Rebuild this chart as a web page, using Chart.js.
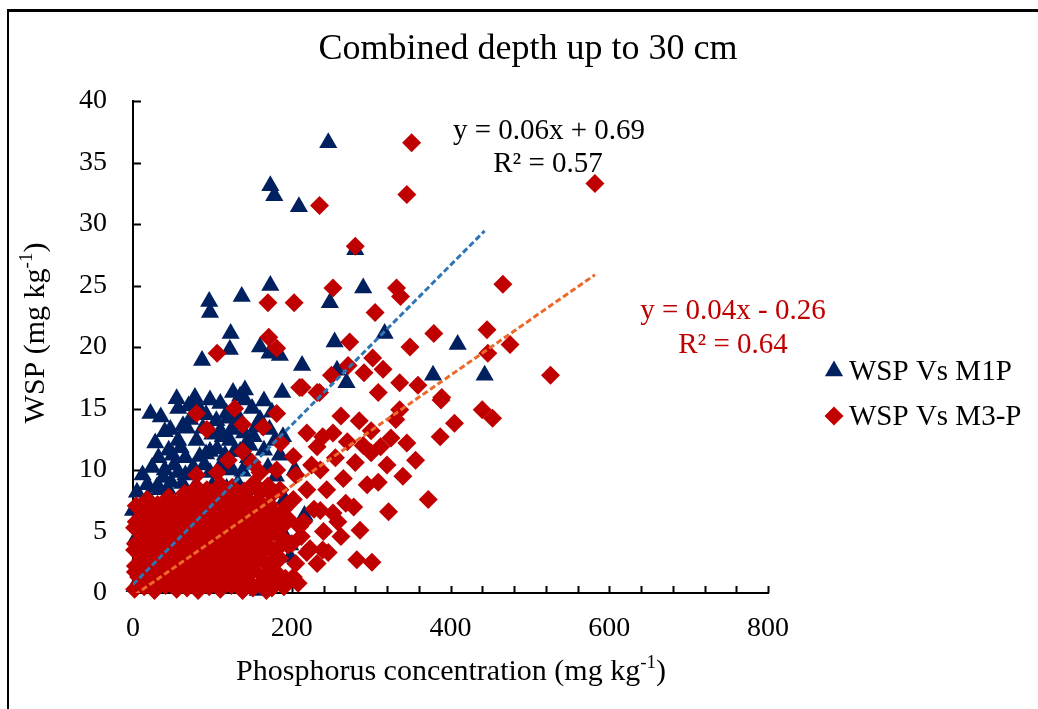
<!DOCTYPE html>
<html>
<head>
<meta charset="utf-8">
<title>Combined depth up to 30 cm</title>
<script src="https://cdn.jsdelivr.net/npm/chart.js@4.4.0/dist/chart.umd.min.js"></script>
<style>
  html, body { margin: 0; padding: 0; background: #fff; overflow: hidden; }
  #wrap { position: relative; width: 1038px; height: 709px; overflow: hidden; }
  #frame {
    position: absolute; left: 7px; top: 9px; width: 1100px; height: 800px;
    border-left: 2px solid #000; border-top: 3px solid #000;
  }
  #chart { position: absolute; left: 0; top: 0; }
</style>
</head>
<body>
<div id="wrap">
  <div id="frame"></div>
  <canvas id="chart" width="1038" height="709"></canvas>
</div>
<script>
const FONT = "'Liberation Serif', 'Times New Roman', serif";

const chartTitle = 'Combined depth up to 30 cm';
const seriesNames = ['WSP Vs M1P', 'WSP Vs M3-P'];
const xTitle = [['Phosphorus concentration (mg kg', false], ['-1', true], [')', false]];
const yTitle = [['WSP (mg kg', false], ['-1', true], [')', false]];

const xTickValues = [0, 200, 400, 600, 800];
const yTickValues = [0, 5, 10, 15, 20, 25, 30, 35, 40];

// linear trendlines: slope, intercept, R²
const trendSlope = [0.0649, 0.0449];
const trendIntercept = [0.69, -0.26];
const trendR2 = [0.57, 0.64];

// [phosphorus, WSP] for M1P
const m1pPoints = [
  [246, 36.6], [173, 33.1], [178, 32.3], [209, 31.4], [280, 27.9], [173, 25.0], [137, 24.1],
  [96, 23.7], [97, 22.8], [248, 23.6], [290, 24.8], [317, 21.1], [123, 21.1], [122, 19.8],
  [87, 18.9], [160, 20.0], [172, 19.5], [185, 19.3], [254, 20.4], [213, 18.5], [409, 20.2],
  [126, 16.3], [141, 16.5], [188, 16.3], [378, 17.7], [269, 17.1], [257, 18.1], [78, 15.9],
  [443, 17.7],
  [22, 14.6], [57, 15.0], [78, 15.5], [47, 13.3], [68, 13.4], [57, 12.4], [113, 12.7],
  [125, 13.3], [144, 12.3], [50, 11.2], [84, 11.1], [97, 11.5], [38, 9.4], [57, 9.8],
  [76, 10.2], [97, 9.8], [128, 11.5], [189, 12.7], [156, 8.4], [19, 7.8], [9, 7.0], [0, 6.7],
  [30, 8.6], [194, 4.3], [198, 2.9], [63, 13.6], [72, 14.1], [84, 14.9], [97, 15.7], [40, 10.0],
  [34, 8.4], [116, 11.2], [122, 12.4], [128, 13.7], [141, 15.7], [160, 14.1], [175, 14.7],
  [147, 12.0], [179, 12.4], [185, 11.2], [204, 10.0], [191, 7.6], [216, 6.3], [198, 3.9],
  [5, 8.2], [18, 8.8], [44, 8.4], [62, 8.9], [75, 8.3], [100, 8.7], [118, 8.5], [132, 8.9],
  [24, 10.2], [52, 10.4], [66, 9.6], [110, 10.3], [138, 9.9], [150, 10.5], [170, 10.2],
  [32, 11.0], [45, 11.6], [60, 11.8], [92, 11.3], [106, 11.7], [135, 11.5], [165, 11.6],
  [40, 13.1], [88, 13.4], [100, 12.9], [110, 13.2], [140, 13.0], [152, 12.7], [172, 13.3],
  [35, 14.3], [92, 14.5], [105, 14.0], [118, 14.6], [132, 14.4], [150, 15.0], [55, 15.8],
  [70, 15.2], [110, 15.4], [165, 15.6],
  [12, 9.6], [28, 12.2], [66, 11.0], [80, 12.4], [120, 14.2], [135, 16.0], [155, 13.5],
  [48, 9.0], [90, 10.4], [125, 10.0], [145, 11.0], [180, 9.5],
  [2, 0.5], [12, 2.5], [25, 1.5], [40, 3.5], [55, 2.0], [70, 4.5], [85, 3.0], [100, 5.5],
  [115, 2.5], [130, 6.0], [145, 4.0], [157, 0.2], [150, 2.0], [165, 3.5], [175, 6.5], [4, 4.5],
  [15, 5.5], [28, 6.5], [50, 6.0], [90, 7.0], [120, 7.5], [160, 7.2], [180, 5.2], [170, 1.5]
];

// [phosphorus, WSP] for M3-P
const m3pPoints = [
  [2, 0.3], [14, 0.5], [27, 0.2], [41, 0.6], [55, 0.3], [68, 0.4], [82, 0.2], [96, 0.5],
  [110, 0.3], [124, 0.6], [138, 0.2], [151, 0.4],
  [9, 0.8], [20, 0.7], [34, 0.9], [48, 0.7], [61, 0.8], [75, 0.9], [89, 0.7], [103, 0.8],
  [117, 0.9], [131, 0.7], [144, 0.8], [160, 0.7],
  [7, 1.3], [21, 1.1], [34, 1.4], [48, 1.2], [62, 1.5], [75, 1.3], [89, 1.1], [103, 1.4],
  [117, 1.2], [131, 1.5], [145, 1.0], [165, 1.3],
  [3, 1.7], [14, 1.8], [27, 1.6], [41, 1.9], [55, 1.7], [68, 1.8], [82, 1.6], [96, 1.9],
  [110, 1.7], [124, 1.8], [138, 1.6], [152, 1.9], [180, 1.7],
  [3, 2.2], [15, 2.0], [28, 2.4], [42, 2.1], [56, 2.3], [69, 2.0], [83, 2.4], [97, 2.2],
  [111, 2.1], [125, 2.3], [139, 2.0], [153, 2.4], [172, 2.2],
  [10, 2.7], [23, 2.6], [36, 2.8], [50, 2.5], [63, 2.7], [77, 2.6], [91, 2.8], [105, 2.5],
  [119, 2.7], [133, 2.6], [147, 2.8], [165, 2.6],
  [8, 3.1], [22, 3.0], [35, 3.3], [49, 2.9], [63, 3.2], [76, 3.0], [90, 3.3], [104, 3.1],
  [118, 2.9], [132, 3.2], [146, 3.0], [160, 3.3],
  [2, 3.5], [15, 3.6], [29, 3.4], [42, 3.6], [56, 3.5], [70, 3.7], [83, 3.4], [97, 3.6],
  [111, 3.5], [125, 3.7], [139, 3.4], [153, 3.6], [175, 3.5],
  [3, 4.0], [16, 3.9], [29, 4.2], [43, 3.8], [57, 4.1], [70, 3.9], [84, 4.2], [98, 4.0],
  [112, 3.8], [126, 4.1], [140, 3.9], [154, 4.2], [168, 4.0],
  [10, 4.4], [23, 4.5], [37, 4.3], [50, 4.5], [63, 4.4], [77, 4.6], [90, 4.3], [104, 4.5],
  [118, 4.4], [132, 4.6], [146, 4.3], [160, 4.5], [188, 4.5],
  [9, 4.9], [23, 4.8], [36, 5.1], [50, 4.7], [64, 5.0], [77, 4.8], [91, 5.1], [105, 4.9],
  [119, 4.7], [133, 5.0], [147, 4.8], [162, 5.1], [178, 4.9],
  [2, 5.3], [16, 5.4], [29, 5.2], [43, 5.4], [57, 5.3], [70, 5.5], [84, 5.2], [98, 5.4],
  [112, 5.3], [126, 5.5], [140, 5.2], [155, 5.4], [170, 5.3],
  [4, 5.8], [17, 5.6], [30, 6.0], [44, 5.7], [58, 5.9], [71, 5.6], [85, 6.0], [99, 5.8],
  [113, 5.7], [127, 5.9], [141, 5.6], [156, 6.0], [171, 5.8],
  [10, 6.2], [23, 6.3], [37, 6.1], [51, 6.3], [64, 6.2], [78, 6.4], [91, 6.1], [105, 6.3],
  [119, 6.2], [133, 6.4], [148, 6.1], [180, 6.3],
  [11, 6.8], [24, 6.6], [38, 6.9], [51, 6.5], [65, 6.8], [78, 6.6], [92, 6.9], [106, 6.7],
  [120, 6.5], [134, 6.8], [149, 6.6], [165, 6.9],
  [4, 7.1], [31, 7.2], [45, 7.0], [58, 7.2], [72, 7.1], [86, 7.3], [99, 7.0], [113, 7.2],
  [127, 7.1], [142, 7.3], [172, 7.2],
  [18, 7.6], [45, 7.8], [59, 7.4], [72, 7.7], [86, 7.5], [100, 7.8], [114, 7.6], [128, 7.4],
  [143, 7.7], [158, 7.5],
  [65, 8.1], [87, 8.0], [102, 8.2], [117, 8.1], [133, 8.0], [160, 8.2],
  [80, 8.6], [93, 8.4], [110, 8.8], [125, 8.6], [140, 8.3], [152, 8.9], [170, 8.7],
  [175, 0.4], [185, 2.8], [192, 1.2], [188, 5.4], [200, 4.0], [196, 6.0], [210, 5.4],
  [182, 3.6], [168, 0.2], [190, 0.5],
  [164, 13.5], [181, 14.6], [202, 11.1], [232, 11.9], [239, 12.7], [219, 13.0], [252, 13.0],
  [210, 16.7], [235, 16.3], [138, 13.7], [128, 15.0], [93, 13.3], [80, 14.6], [138, 11.5],
  [80, 9.6], [106, 9.8], [181, 10.0], [185, 8.4], [219, 8.4], [244, 8.4], [236, 10.0],
  [236, 6.7], [252, 6.5], [185, 5.9], [219, 3.3], [239, 3.5], [202, 1.3], [202, 7.6],
  [205, 9.6], [225, 10.4], [255, 11.0], [265, 9.3], [270, 12.3], [280, 10.6], [290, 12.0],
  [300, 11.4], [262, 14.4], [285, 14.0], [300, 13.2], [312, 11.9], [320, 10.4], [295, 8.8],
  [278, 7.0], [258, 5.8], [240, 5.0], [228, 6.8], [212, 4.6], [195, 3.9], [205, 2.4],
  [180, 1.0], [208, 0.8], [232, 2.4], [262, 4.6], [190, 6.8], [175, 8.0], [160, 9.8],
  [150, 10.6], [120, 10.8], [186, 12.2], [195, 7.2], [215, 5.8], [170, 4.8],
  [351, 36.6], [582, 33.3], [345, 32.4], [235, 31.5], [280, 28.2], [252, 24.8], [332, 24.8],
  [337, 24.1], [170, 23.6], [203, 23.6], [305, 22.8], [171, 20.8], [181, 19.9], [273, 20.4],
  [379, 21.1], [349, 20.0], [106, 19.5], [302, 19.1], [315, 18.2], [291, 17.9], [336, 17.1],
  [213, 16.7], [232, 16.3], [271, 18.5], [250, 17.7], [309, 16.3], [389, 15.9], [466, 25.1],
  [446, 21.4], [475, 20.2], [447, 19.5], [526, 17.7], [440, 14.9], [453, 14.2], [387, 12.7],
  [388, 15.7], [405, 13.8], [372, 7.6], [322, 6.6], [301, 2.5], [309, 9.0], [282, 2.7],
  [268, 7.3], [246, 3.3], [223, 3.6], [286, 5.1], [359, 16.9], [336, 14.9], [331, 14.1],
  [345, 12.2], [356, 10.8], [340, 9.5], [325, 12.6]
];

const toXY = pts => pts.map(p => ({ x: p[0], y: p[1] }));

function trendPoints(pts, i) {
  const xs = pts.map(p => p[0]);
  return [Math.min(...xs), Math.max(...xs)].map(x => ({ x: x, y: trendSlope[i] * x + trendIntercept[i] }));
}

function equationText(i) {
  const b = trendIntercept[i];
  return 'y = ' + trendSlope[i].toFixed(2) + 'x ' + (b < 0 ? '- ' : '+ ') + Math.abs(b).toFixed(2);
}

// text with a raised "-1" exponent, centred on cx, baseline at y
function drawSupText(ctx, pieces, cx, y, size) {
  let total = 0;
  pieces.forEach(([t, sup]) => {
    ctx.font = (sup ? Math.round(size * 0.62) : size) + 'px ' + FONT;
    total += ctx.measureText(t).width;
  });
  let x = cx - total / 2;
  ctx.textAlign = 'left';
  ctx.textBaseline = 'alphabetic';
  pieces.forEach(([t, sup]) => {
    ctx.font = (sup ? Math.round(size * 0.62) : size) + 'px ' + FONT;
    ctx.fillText(t, x, sup ? y - size * 0.4 : y);
    x += ctx.measureText(t).width;
  });
}

const decor = {
  id: 'decor',
  beforeDatasetsDraw(chart) {
    // inward tick marks
    const ctx = chart.ctx;
    const { left, bottom } = chart.chartArea;
    const xs = chart.scales.x, ys = chart.scales.y;
    ctx.save();
    ctx.strokeStyle = '#000';
    ctx.lineWidth = 2;
    ctx.beginPath();
    for (let v = 5; v <= 40; v += 5) {
      const py = Math.round(ys.getPixelForValue(v)) + 0.5;
      ctx.moveTo(left, py);
      ctx.lineTo(left + 8, py);
    }
    for (let v = 40; v <= 800; v += 40) {
      const px = Math.round(xs.getPixelForValue(v)) + 0.5;
      ctx.moveTo(px, bottom);
      ctx.lineTo(px, bottom - 7);
    }
    ctx.stroke();
    ctx.restore();
  },
  afterDraw(chart) {
    const ctx = chart.ctx;
    ctx.save();
    ctx.fillStyle = '#000';

    ctx.font = '36px ' + FONT;
    ctx.textAlign = 'center';
    ctx.textBaseline = 'middle';
    ctx.fillText(chartTitle, 528, 50);

    drawSupText(ctx, xTitle, 451, 680, 30);

    ctx.save();
    ctx.translate(34, 333);
    ctx.rotate(-Math.PI / 2);
    drawSupText(ctx, yTitle, 0, 10, 30);
    ctx.restore();

    // regression equations
    ctx.textAlign = 'center';
    ctx.textBaseline = 'middle';
    ctx.font = '29px ' + FONT;
    ctx.fillStyle = '#000';
    ctx.fillText(equationText(0), 549, 131);
    ctx.fillText('R² = ' + trendR2[0].toFixed(2), 548, 164);
    ctx.fillStyle = '#C00000';
    ctx.fillText(equationText(1), 733, 311);
    ctx.fillText('R² = ' + trendR2[1].toFixed(2), 733, 345);

    // legend
    [0, 1].forEach(i => {
      const ds = chart.data.datasets[i];
      const y = 371 + i * 45;
      ctx.fillStyle = ds.backgroundColor;
      Chart.helpers.drawPoint(ctx, { pointStyle: ds.pointStyle, radius: ds.pointRadius, rotation: 0, borderWidth: 0 }, 834, y);
      ctx.fillStyle = '#000';
      ctx.font = '29px ' + FONT;
      ctx.textAlign = 'left';
      ctx.textBaseline = 'middle';
      ctx.fillText(ds.label, 849, y + 1);
    });
    ctx.restore();
  }
};

const tickFont = { family: FONT, size: 28 };

new Chart(document.getElementById('chart'), {
  type: 'scatter',
  data: {
    datasets: [
      {
        label: seriesNames[0],
        data: toXY(m1pPoints),
        pointStyle: 'triangle',
        pointRadius: 10.5,
        backgroundColor: '#002060',
        borderColor: '#002060',
        borderWidth: 0,
        clip: false,
        order: 3
      },
      {
        label: seriesNames[1],
        data: toXY(m3pPoints),
        pointStyle: 'rectRot',
        pointRadius: 9.5,
        backgroundColor: '#C00000',
        borderColor: '#C00000',
        borderWidth: 0,
        clip: false,
        order: 2
      },
      {
        label: 'trend M1P',
        data: trendPoints(m1pPoints, 0),
        showLine: true,
        pointRadius: 0,
        borderColor: '#2E75B6',
        borderWidth: 3,
        borderDash: [6, 3],
        order: 1
      },
      {
        label: 'trend M3-P',
        data: trendPoints(m3pPoints, 1),
        showLine: true,
        pointRadius: 0,
        borderColor: '#EB6A2A',
        borderWidth: 3,
        borderDash: [6, 3],
        order: 0
      }
    ]
  },
  options: {
    responsive: false,
    animation: false,
    devicePixelRatio: 1,
    events: [],
    layout: { padding: { top: 101, right: 270, bottom: 0, left: 0 } },
    plugins: {
      legend: { display: false },
      title: { display: false },
      tooltip: { enabled: false }
    },
    scales: {
      x: {
        type: 'linear',
        min: 0,
        max: 800,
        afterBuildTicks: s => { s.ticks = xTickValues.map(v => ({ value: v })); },
        afterFit: s => { s.height = 116; },
        grid: { display: false, drawTicks: false },
        border: { display: true, color: '#000', width: 2 },
        ticks: { color: '#000', font: tickFont, padding: 19, maxRotation: 0 }
      },
      y: {
        type: 'linear',
        min: 0,
        max: 40,
        afterBuildTicks: s => { s.ticks = yTickValues.map(v => ({ value: v })); },
        afterFit: s => { s.width = 133; },
        grid: { display: false, drawTicks: false },
        border: { display: true, color: '#000', width: 2 },
        ticks: { color: '#000', font: tickFont, padding: 26 }
      }
    }
  },
  plugins: [decor]
});
</script>
</body>
</html>
